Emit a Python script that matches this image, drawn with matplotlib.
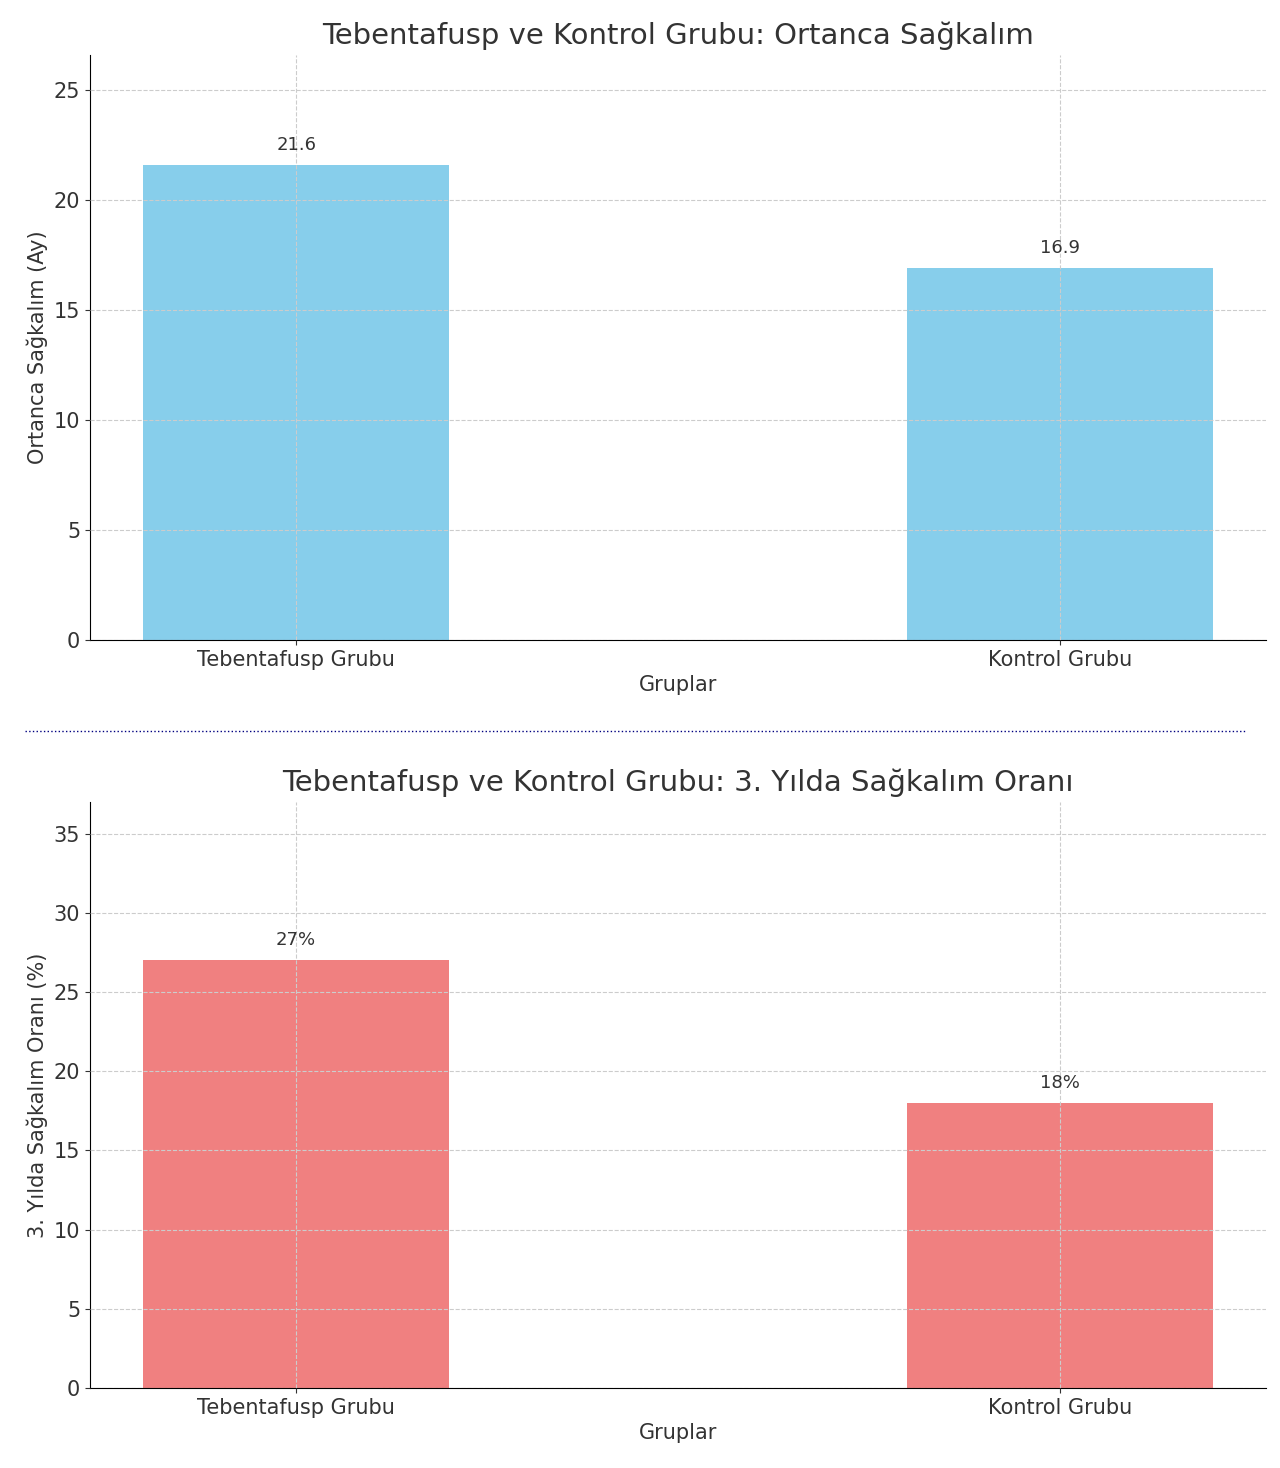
import matplotlib
matplotlib.use("Agg")
import matplotlib.pyplot as plt
from matplotlib.lines import Line2D

groups = ["Tebentafusp Grubu", "Kontrol Grubu"]
median_survival = [21.6, 16.9]
survival_3y = [27, 18]
median_labels = ["21.6", "16.9"]
rate_labels = ["27%", "18%"]

fig = plt.figure(figsize=(12.8, 14.68), dpi=100)
ax1 = fig.add_axes([90/1280, 1-640/1468, 1176/1280, 585/1468])
ax2 = fig.add_axes([90/1280, 1-1388/1468, 1176/1280, 586/1468])

def draw(ax, vals, labels, color, title, ylabel, ymax):
    x = list(range(len(groups)))
    ax.bar(x, vals, width=0.4, color=color, zorder=2)
    for xi, v, l in zip(x, vals, labels):
        ax.annotate(l, (xi, v), xytext=(0, 8), textcoords="offset points",
                    ha="center", va="bottom", fontsize=13, color="#333333")
    ax.set_xticks(x)
    ax.set_xticklabels(groups)
    ax.set_ylim(0, ymax)
    ax.set_title(title, fontsize=21, color="#333333", pad=8)
    ax.set_ylabel(ylabel, fontsize=15, color="#333333")
    ax.set_xlabel("Gruplar", fontsize=15, color="#333333")
    ax.tick_params(labelsize=15, colors="#333333")
    ax.grid(True, linestyle="--", color="#cccccc", zorder=0)
    ax.set_axisbelow(False)
    for s in ["top", "right"]:
        ax.spines[s].set_visible(False)

draw(ax1, median_survival, median_labels, "skyblue",
     "Tebentafusp ve Kontrol Grubu: Ortanca Sağkalım", "Ortanca Sağkalım (Ay)", 26.6)
draw(ax2, survival_3y, rate_labels, "lightcoral",
     "Tebentafusp ve Kontrol Grubu: 3. Yılda Sağkalım Oranı", "3. Yılda Sağkalım Oranı (%)", 37)

fig.add_artist(Line2D([25/1280, 1245/1280], [1-731/1468]*2, transform=fig.transFigure,
                      color="navy", linestyle=":", linewidth=1))
fig.savefig("out.png", dpi=100)
